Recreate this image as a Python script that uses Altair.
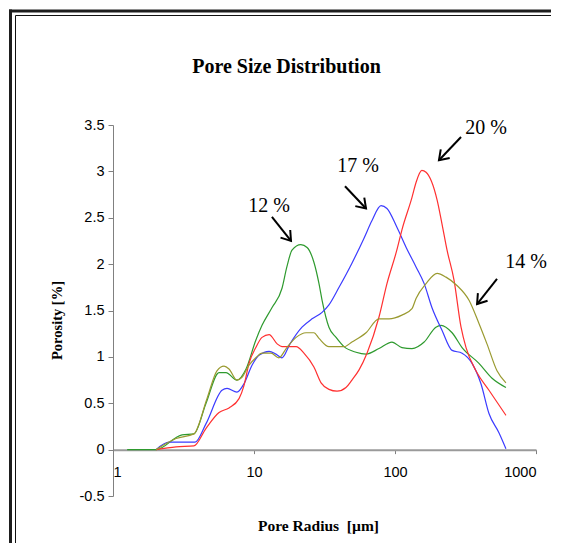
import math
import altair as alt
import pandas as pd

# ---------------- data ----------------
series_names = ["12 %", "17 %", "20 %", "14 %"]
series_colors = ["#2e9a2e", "#3b3bff", "#ff3030", "#9a9a30"]

green_r = [1.26, 2.02, 3.09, 3.75, 4.57, 5.65, 6.33, 7.57, 8.78, 10.3, 11.4, 13.4, 15.8, 17.1, 18.6,
           21.5, 23.8, 26.6, 28.9, 30.4, 34.0, 38.2, 43.5, 52.9, 62.3, 77.0, 95.2, 112, 132, 161,
           195, 212, 254, 299, 394, 488, 612]
green_p = [0, 0, 0.16, 0.17, 0.50, 0.83, 0.83, 0.75, 0.87, 1.18, 1.34, 1.53, 1.74, 1.97, 2.15,
           2.21, 2.18, 2.02, 1.79, 1.61, 1.32, 1.21, 1.11, 1.05, 1.03, 1.09, 1.16, 1.10, 1.09, 1.16,
           1.32, 1.34, 1.26, 1.10, 0.93, 0.77, 0.67]

blue_r = [2.02, 2.50, 3.82, 4.57, 5.93, 6.44, 7.57, 8.49, 9.68, 10.9, 12.8, 14.3, 15.8, 18.0, 21.9,
          25.8, 30.4, 34.0, 40.1, 49.5, 60.3, 68.7, 79.6, 87.7, 103, 120, 141, 161, 183, 215,
          254, 299, 352, 407, 464, 547, 612]
blue_p = [0, 0.08, 0.08, 0.28, 0.64, 0.66, 0.62, 0.71, 0.91, 1.02, 1.06, 1.03, 0.99, 1.14, 1.32,
          1.41, 1.48, 1.56, 1.75, 2.01, 2.28, 2.47, 2.63, 2.60, 2.40, 2.18, 1.97, 1.79, 1.53, 1.29,
          1.07, 1.04, 0.93, 0.71, 0.39, 0.18, 0.01]

red_r = [2.02, 2.80, 3.75, 4.57, 5.65, 6.65, 7.83, 8.49, 9.22, 10.3, 11.4, 12.8, 14.6, 15.8, 19.9,
         22.6, 26.6, 29.9, 34.0, 38.8, 44.9, 49.5, 55.6, 63.3, 77.0, 87.7, 103, 112, 132, 141,
         155, 166, 199, 215, 234, 262, 294, 319, 375, 464, 612]
red_p = [0, 0.03, 0.04, 0.23, 0.40, 0.45, 0.55, 0.69, 0.93, 1.10, 1.21, 1.24, 1.14, 1.11, 1.11,
         1.04, 0.89, 0.72, 0.65, 0.63, 0.67, 0.75, 0.86, 1.04, 1.43, 1.79, 2.15, 2.37, 2.72, 2.88,
         3.01, 2.99, 2.69, 2.44, 2.15, 1.83, 1.32, 1.10, 0.85, 0.64, 0.37]

olive_r = [2.02, 2.80, 3.75, 4.64, 5.46, 6.13, 6.65, 7.57, 8.22, 9.22, 10.3, 11.4, 13.2, 15.0, 17.1,
           19.9, 23.4, 26.6, 28.9, 34.0, 43.5, 49.5, 62.3, 77.0, 90.7, 112, 132, 141, 166, 199,
           230, 275, 335, 394, 449, 529, 612]
olive_p = [0, 0.12, 0.17, 0.55, 0.85, 0.90, 0.87, 0.75, 0.78, 0.91, 0.99, 1.04, 1.04, 0.99, 1.10,
           1.21, 1.26, 1.26, 1.20, 1.11, 1.11, 1.16, 1.26, 1.41, 1.41, 1.45, 1.52, 1.63, 1.79, 1.90,
           1.86, 1.77, 1.61, 1.36, 1.14, 0.85, 0.72]

# annotation labels and arrows (data coordinates)
label_text = ["12 %", "17 %", "20 %", "14 %"]
label_r = [12.8, 54.7, 442, 849]
label_p = [2.63, 3.06, 3.47, 2.02]
arrow_r1 = [13.4, 44.2, 294, 529]
arrow_p1 = [2.51, 2.84, 3.37, 1.84]
arrow_r2 = [18.3, 62.3, 205, 382]
arrow_p2 = [2.25, 2.60, 3.12, 1.57]

x_ticks = [1, 10, 100, 1000]
y_ticks = [-0.5, 0, 0.5, 1, 1.5, 2, 2.5, 3, 3.5]

# ---------------- layout ----------------
W, H = 423, 371
X_DOM = [1, 1000]
Y_DOM = [-0.5, 3.5]
PAD = {"left": 105, "top": 117, "right": 15, "bottom": 47}
SANS = "Liberation Sans"
SERIF = "Liberation Serif"

rows = []
for name, rs, ps in zip(series_names, [green_r, blue_r, red_r, olive_r],
                        [green_p, blue_p, red_p, olive_p]):
    for r, p in zip(rs, ps):
        rows.append({"series": name, "r": r, "p": p})
lines_df = pd.DataFrame(rows)

labels_df = pd.DataFrame({"label": label_text, "r": label_r, "p": label_p})

px_dec = W / math.log10(X_DOM[1] / X_DOM[0])
px_unit = H / (Y_DOM[1] - Y_DOM[0])
angles = []
for r1, p1, r2, p2 in zip(arrow_r1, arrow_p1, arrow_r2, arrow_p2):
    dx = math.log10(r2 / r1) * px_dec
    dy = (p1 - p2) * px_unit
    angles.append(math.degrees(math.atan2(dy, dx)) % 360)
arrows_df = pd.DataFrame({"r": arrow_r1, "p": arrow_p1, "r2": arrow_r2, "p2": arrow_p2,
                          "angle": angles})

xscale = alt.Scale(type="log", domain=X_DOM)
yscale = alt.Scale(domain=Y_DOM, nice=False, zero=False)

x_axis = alt.Axis(values=x_ticks, format="d", grid=False,
                  title="Pore Radius\u00a0 [µm]", titleFont=SERIF,
                  titleFontSize=15.5, titleFontWeight="bold", titleColor="black",
                  titleX=205, titleY=69,
                  labelFont=SANS, labelFontSize=14.5, labelColor="black",
                  labelFlush=True, labelPadding=12, tickSize=4, tickColor="#808080",
                  domainColor="#9a9a9a", domainWidth=2, offset=-(0 - Y_DOM[0]) * px_unit)
y_axis = alt.Axis(values=y_ticks, grid=False,
                  labelExpr="replace(format(datum.value, '~g'), '\u2212', '-')",
                  title="Porosity [%]", titleFont=SERIF, titleFontSize=14.5,
                  titleFontWeight="bold", titleColor="black", titleX=-56, titleY=195,
                  titleBaseline="middle", titleAlign="center", titleAngle=270,
                  labelFont=SANS, labelFontSize=14.5, labelColor="black",
                  labelPadding=4, tickSize=5, tickColor="#808080", domainColor="#808080")


def xenc(field):
    return alt.X(field, type="quantitative", scale=xscale, axis=x_axis)


def yenc(field):
    return alt.Y(field, type="quantitative", scale=yscale, axis=y_axis)


lines = alt.Chart(lines_df).mark_line(strokeWidth=1.2, interpolate="monotone").encode(
    x=xenc("r"),
    y=yenc("p"),
    color=alt.Color("series:N", scale=alt.Scale(domain=series_names, range=series_colors),
                    legend=None),
    detail="series:N",
)

texts = alt.Chart(labels_df).mark_text(font=SERIF, fontSize=20, color="black",
                                       align="center", baseline="middle").encode(
    x=xenc("r"),
    y=yenc("p"),
    text="label:N",
)

shafts = alt.Chart(arrows_df).mark_rule(color="black", strokeWidth=2).encode(
    x=xenc("r"),
    y=yenc("p"),
    x2="r2:Q",
    y2="p2:Q",
)

heads = alt.Chart(arrows_df).mark_point(shape="M -1 -0.68 L 0 0 L -1 0.68", size=330,
                                        filled=False, color="black", strokeWidth=2,
                                        opacity=1).encode(
    x=xenc("r2"),
    y=yenc("p2"),
    angle=alt.Angle("angle:Q", scale=None),
)

# decorative double frame around the chart
one = pd.DataFrame({"d": [0]})
frame_right = W + PAD["right"]
frame_bottom = H + PAD["bottom"]
f1 = alt.Chart(one).mark_rule(color="#1e1e1e", strokeWidth=3).encode(
    x=alt.value(-102.5), y=alt.value(-115.5), y2=alt.value(frame_bottom))
f2 = alt.Chart(one).mark_rule(color="#1e1e1e", strokeWidth=3).encode(
    x=alt.value(-104), x2=alt.value(frame_right), y=alt.value(-114))
f3 = alt.Chart(one).mark_rule(color="#111111", strokeWidth=1).encode(
    x=alt.value(-97.5), y=alt.value(-109.5), y2=alt.value(frame_bottom))
f4 = alt.Chart(one).mark_rule(color="#111111", strokeWidth=1).encode(
    x=alt.value(-97.5), x2=alt.value(frame_right), y=alt.value(-109.5))

chart = alt.layer(lines, shafts, heads, texts, f1, f2, f3, f4).properties(
    width=W, height=H,
    padding=PAD,
    background="white",
    autosize=alt.AutoSizeParams(type="none"),
    title=alt.TitleParams("Pore Size Distribution", font=SERIF, fontSize=20,
                          fontWeight="bold", color="black", anchor="middle", frame="group",
                          dx=-38, dy=73),
).configure_view(stroke=None).configure_axis(labelFont=SANS)

chart.save("out.html", embed_options={"renderer": "svg", "actions": False})
